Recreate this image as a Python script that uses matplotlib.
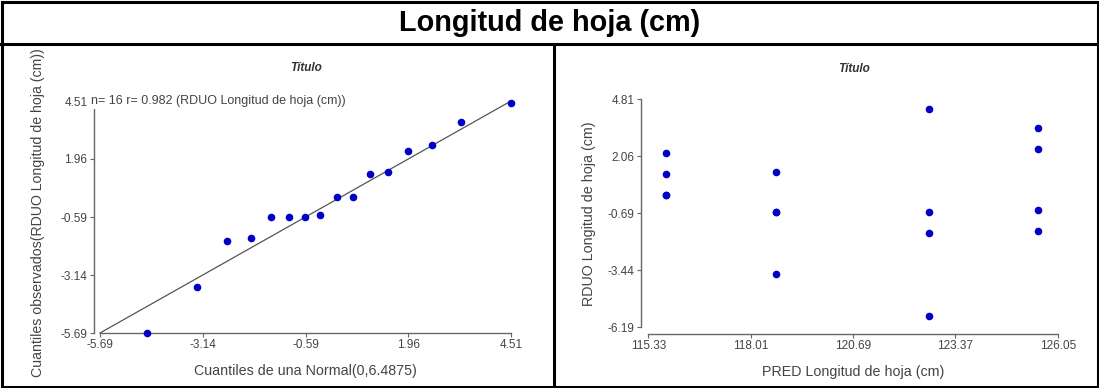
import matplotlib.pyplot as plt
from matplotlib.lines import Line2D
from matplotlib.patches import Rectangle

plt.rcParams['font.family'] = ['Liberation Sans', 'DejaVu Sans']
plt.rcParams['axes.unicode_minus'] = False

# Grafico QQ (cuantiles teoricos vs observados)
cuantiles_normal = [-4.52, -3.29, -2.55, -1.94, -1.45, -1.01, -0.60, -0.23,
                    0.20, 0.60, 1.01, 1.46, 1.95, 2.54, 3.28, 4.50]
cuantiles_obs = [-5.68, -3.65, -1.63, -1.51, -0.60, -0.60, -0.60, -0.50,
                 0.28, 0.28, 1.29, 1.39, 2.32, 2.58, 3.59, 4.44]
qq_ticks = [-5.69, -3.14, -0.59, 1.96, 4.51]

# Residuos vs predichos
pred = [115.79, 115.79, 115.79, 115.79, 118.67, 118.67, 118.67, 118.67,
        122.67, 122.67, 122.67, 122.67, 125.54, 125.54, 125.54, 125.54]
rduo = [2.24, 1.21, 0.19, 0.19, 1.32, -0.64, -0.64, -3.64,
        4.33, -0.64, -1.64, -5.65, 3.43, 2.43, -0.53, -1.53]
pred_ticks = [115.33, 118.01, 120.69, 123.37, 126.05]
rduo_ticks = [-6.19, -3.44, -0.69, 2.06, 4.81]

azul = '#0000c8'
gris_eje = '#666666'
gris_txt = '#444444'


def estilo(ax, xt, yt, off_x, off_y):
    for s in ['top', 'right']:
        ax.spines[s].set_visible(False)
    for s in ['left', 'bottom']:
        ax.spines[s].set_color(gris_eje)
        ax.spines[s].set_linewidth(1.0)
    ax.spines['left'].set_position(('outward', off_y))
    ax.spines['bottom'].set_position(('outward', off_x))
    ax.set_xticks(xt)
    ax.set_yticks(yt)
    ax.set_xticklabels(['%.2f' % v for v in xt])
    ax.set_yticklabels(['%.2f' % v for v in yt])
    ax.set_xlim(xt[0], xt[-1])
    ax.set_ylim(yt[0], yt[-1])
    ax.tick_params(length=3, width=0.8, color=gris_eje, labelsize=8.5,
                   labelcolor=gris_txt, pad=1.5)


fig = plt.figure(figsize=(10.99, 3.88), dpi=100)

# panel izquierdo
ax1 = fig.add_axes([100 / 1099, 55 / 388, 411 / 1099, 232 / 388])
estilo(ax1, qq_ticks, qq_ticks, 0, 4.5)
ax1.plot([qq_ticks[0], qq_ticks[-1]], [qq_ticks[0], qq_ticks[-1]],
         color='#555555', lw=0.9, clip_on=False)
ax1.scatter(cuantiles_normal, cuantiles_obs, s=20, color=azul, zorder=3, clip_on=False)
ax1.set_xlabel('Cuantiles de una Normal(0,6.4875)', fontsize=10.3, color=gris_txt, labelpad=9)
ax1.set_ylabel('Cuantiles observados(RDUO Longitud de hoja (cm))', fontsize=10.2,
               color=gris_txt)
ax1.yaxis.set_label_coords(-0.135, 0.52)
ax1.text(-0.022, 1.0, 'n= 16 r= 0.982 (RDUO Longitud de hoja (cm))', transform=ax1.transAxes,
         ha='left', va='center', fontsize=9, color=gris_txt,
         bbox=dict(facecolor='white', edgecolor='none', pad=1.5), zorder=5)

# panel derecho
ax2 = fig.add_axes([648.3 / 1099, 60.7 / 388, 409.4 / 1099, 227.9 / 388])
estilo(ax2, pred_ticks, rduo_ticks, 4.8, 5.5)
ax2.scatter(pred, rduo, s=20, color=azul, zorder=3, clip_on=False)
ax2.set_xlabel('PRED Longitud de hoja (cm)', fontsize=10.3, color=gris_txt, labelpad=9)
ax2.set_ylabel('RDUO Longitud de hoja (cm)', fontsize=10.3, color=gris_txt, labelpad=8)

# subtitulos
fig.text(306 / 1099, 1 - 68 / 388, 'Título', fontsize=8.5, style='italic', weight='bold',
         color='#333333', ha='center', va='center')
fig.text(854 / 1099, 1 - 69 / 388, 'Título', fontsize=8.5, style='italic', weight='bold',
         color='#333333', ha='center', va='center')

# titulo general y marco de tabla
fig.text(0.5, 1 - 23 / 388, 'Longitud de hoja (cm)', fontsize=20.8, weight='bold',
         ha='center', va='center')
fig.add_artist(Rectangle((1.5 / 1099, 1.5 / 388), 1096 / 1099, 385 / 388, fill=False,
                         lw=2.2, edgecolor='black', transform=fig.transFigure))
fig.add_artist(Line2D([0, 1], [1 - 44 / 388, 1 - 44 / 388], color='black', lw=2.2,
                      transform=fig.transFigure))
fig.add_artist(Line2D([554 / 1099, 554 / 1099], [0, 1 - 44 / 388], color='black', lw=2.2,
                      transform=fig.transFigure))

fig.savefig('out.png', dpi=100)
